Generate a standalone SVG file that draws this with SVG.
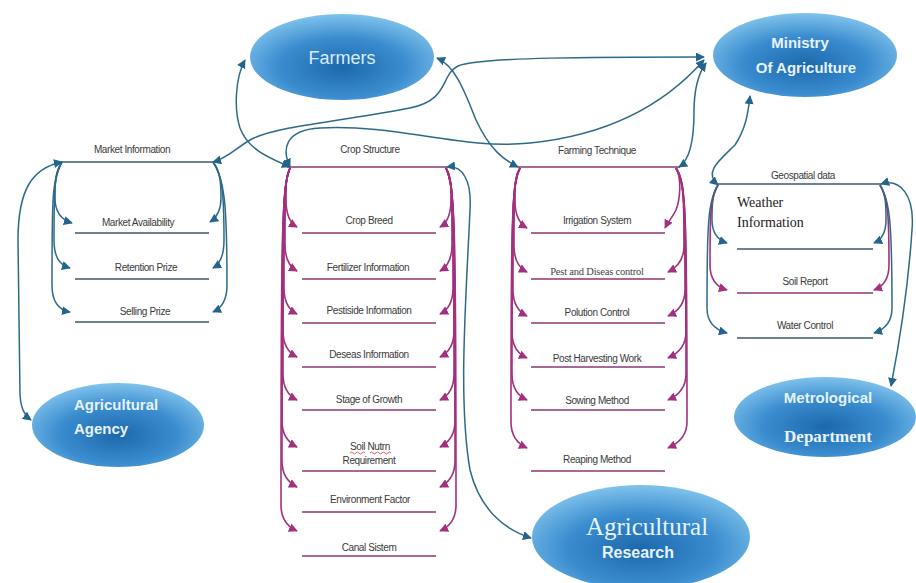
<svg xmlns="http://www.w3.org/2000/svg" width="916" height="583" viewBox="0 0 916 583">
<defs>
<radialGradient id="eg" cx="50%" cy="62%" r="62%">
<stop offset="0" stop-color="#1d68ad"/>
<stop offset="0.55" stop-color="#3a8ccf"/>
<stop offset="1" stop-color="#80c3ec"/>
</radialGradient>
<marker id="at" viewBox="0 0 10 10" refX="9" refY="5" markerWidth="9" markerHeight="9" markerUnits="userSpaceOnUse" orient="auto-start-reverse">
<path d="M0,0 L10,5 L0,10 Z" fill="#23648a"/>
</marker>
<marker id="am" viewBox="0 0 10 10" refX="9" refY="5" markerWidth="9" markerHeight="9" markerUnits="userSpaceOnUse" orient="auto-start-reverse">
<path d="M0,0 L10,5 L0,10 Z" fill="#a3307e"/>
</marker>
<style>
.el{fill:url(#eg);}
.t{fill:none;stroke:#2d6a8a;stroke-width:1.5;marker-end:url(#at);}
.tb{fill:none;stroke:#2d6a8a;stroke-width:1.5;marker-start:url(#at);marker-end:url(#at);}
.m{fill:none;stroke:#a3307e;stroke-width:1.6;marker-end:url(#am);}
.lt{stroke:#3b5a6a;stroke-width:1.5;}
.lm{stroke:#8c3772;stroke-width:1.5;}
.it{font-family:"Liberation Sans",Arial,sans-serif;font-size:10px;fill:#3a3a3a;text-anchor:middle;letter-spacing:-0.4px;}
.nt{font-family:"Liberation Sans",Arial,sans-serif;fill:#e6f3fc;font-weight:bold;}
.ns{font-family:"Liberation Serif","Times New Roman",serif;fill:#e6f3fc;}
</style>
</defs>
<rect width="916" height="583" fill="#ffffff"/>

<g id="farmers">
<ellipse class="el" cx="342" cy="57" rx="92" ry="43"/>
<text x="342" y="64" font-family="Liberation Sans,Arial,sans-serif" font-size="18" fill="#d9edfb" text-anchor="middle">Farmers</text>
</g>
<g id="ministry">
<ellipse class="el" cx="805" cy="55" rx="92" ry="42"/>
<text class="nt" x="800" y="48" font-size="15" text-anchor="middle">Ministry</text>
<text class="nt" x="806" y="73" font-size="15" text-anchor="middle">Of Agriculture</text>
</g>
<g id="agency">
<ellipse class="el" cx="118" cy="425" rx="86" ry="42"/>
<text class="nt" x="74" y="410" font-size="15">Agricultural</text>
<text class="nt" x="74" y="434" font-size="15">Agency</text>
</g>
<g id="metrological">
<ellipse class="el" cx="825" cy="417" rx="91" ry="40"/>
<text class="nt" x="828" y="403" font-size="15" text-anchor="middle">Metrological</text>
<text class="ns" x="828" y="442" font-size="17" font-weight="bold" text-anchor="middle">Department</text>
</g>
<g id="research">
<ellipse class="el" cx="641" cy="537" rx="109" ry="52"/>
<text class="ns" x="647" y="535" font-size="25" text-anchor="middle">Agricultural</text>
<text class="nt" x="638" y="558" font-size="16" text-anchor="middle">Research</text>
</g>

<g id="market-information">
<text class="it" x="132" y="153">Market Information</text>
<line class="lt" x1="60" y1="162" x2="216" y2="162"/>
<text class="it" x="138" y="226">Market Availability</text>
<line class="lt" x1="75" y1="233" x2="209" y2="233"/>
<text class="it" x="146" y="271">Retention  Prize</text>
<line class="lt" x1="75" y1="279" x2="209" y2="279"/>
<text class="it" x="145" y="315">Selling  Prize</text>
<line class="lt" x1="75" y1="322" x2="209" y2="322"/>
</g>

<g id="crop-structure">
<text class="it" x="370" y="153">Crop Structure</text>
<line class="lm" x1="287" y1="167" x2="447" y2="167"/>
<text class="it" x="369" y="224">Crop Breed</text>
<line class="lm" x1="302" y1="233" x2="436" y2="233"/>
<text class="it" x="368" y="271">Fertilizer  Information</text>
<line class="lm" x1="302" y1="279" x2="436" y2="279"/>
<text class="it" x="369" y="314">Pestiside Information</text>
<line class="lm" x1="302" y1="323" x2="436" y2="323"/>
<text class="it" x="369" y="358">Deseas Information</text>
<line class="lm" x1="302" y1="367" x2="436" y2="367"/>
<text class="it" x="369" y="403">Stage of Growth</text>
<line class="lm" x1="302" y1="410" x2="436" y2="410"/>
<text class="it" x="370" y="450">Soil Nutrn</text>
<path d="M350,453 q1.5,-2 3,0 t3,0 t3,0 t3,0 t3,0 M370,453 q1.5,-2 3,0 t3,0 t3,0 t3,0 t3,0 t3,0 t3,0" fill="none" stroke="#d23a3a" stroke-width="0.8"/>
<text class="it" x="369" y="464">Requirement</text>
<line class="lm" x1="302" y1="471" x2="436" y2="471"/>
<text class="it" x="370" y="503">Environment Factor</text>
<line class="lm" x1="302" y1="512" x2="436" y2="512"/>
<text class="it" x="369" y="551">Canal Sistem</text>
<line class="lm" x1="302" y1="556" x2="436" y2="556"/>
</g>

<g id="farming-technique">
<text class="it" x="597" y="154">Farming  Technique</text>
<line class="lm" x1="518" y1="167" x2="680" y2="167"/>
<text class="it" x="597" y="224">Irrigation System</text>
<line class="lm" x1="531" y1="233" x2="665" y2="233"/>
<text x="597" y="275" font-family="Liberation Serif,serif" font-size="10.5" fill="#444" text-anchor="middle" letter-spacing="-0.2">Pest  and Diseas  control</text>
<line class="lm" x1="531" y1="279" x2="665" y2="279"/>
<text class="it" x="597" y="316" font-size="8.5">Polution  Control</text>
<line class="lm" x1="531" y1="323" x2="665" y2="323"/>
<text class="it" x="597" y="362" font-size="8.5">Post Harvesting   Work</text>
<line class="lm" x1="531" y1="367" x2="665" y2="367"/>
<text class="it" x="597" y="404">Sowing  Method</text>
<line class="lm" x1="531" y1="410" x2="665" y2="410"/>
<text class="it" x="597" y="463">Reaping Method</text>
<line class="lm" x1="531" y1="471" x2="665" y2="471"/>
</g>

<g id="geospatial-data">
<text class="it" x="803" y="179">Geospatial data</text>
<line class="lt" x1="718" y1="184" x2="882" y2="184"/>
<text x="737" y="207" font-family="Liberation Serif,serif" font-size="14" fill="#222">Weather</text>
<text x="737" y="227" font-family="Liberation Serif,serif" font-size="14" fill="#222">Information</text>
<line class="lt" x1="737" y1="249" x2="873" y2="249"/>
<text class="it" x="805" y="285" font-size="9.5">Soil Report</text>
<line class="lm" x1="737" y1="293" x2="873" y2="293"/>
<text class="it" x="805" y="329">Water Control</text>
<line class="lt" x1="737" y1="338" x2="873" y2="338"/>
</g>

<g id="connectors">
<!-- market information -->
<path class="t" d="M62,162 C55,172 55,182 55,198 C55,212 62,220 72,223"/>
<path class="t" d="M62,162 C54,175 54,190 54,240 C54,258 60,265 70,268"/>
<path class="t" d="M62,162 C52,178 52,200 52,285 C52,302 58,310 70,312"/>
<path class="t" d="M213,162 C220,170 221,182 221,198 C221,210 216,218 210,222"/>
<path class="t" d="M213,162 C222,175 224,190 224,240 C224,256 220,264 213,268"/>
<path class="t" d="M213,162 C224,178 227,200 227,285 C227,300 222,308 213,312"/>
<path class="tb" d="M62,162 C32,168 18,190 18,240 L20,395 C21,408 24,415 31,420"/>
<path class="tb" d="M213,162 C228,158 236,148 250,140 C275,126 350,120 410,108 C450,100 440,75 458,66 C480,57 600,57 704,57"/>
<!-- farmers / ministry / crop / farming -->
<path class="tb" d="M290,167 C270,158 248,150 240,128 C234,110 235,78 245,60"/>
<path class="tb" d="M290,167 C282,150 284,130 320,128 C400,124 460,150 530,143 C600,136 660,110 704,60"/>
<path class="tb" d="M437,58 C456,66 466,95 476,120 C490,150 504,160 518,167"/>
<path class="tb" d="M679,167 C690,160 694,140 694,112 C694,88 698,74 706,63"/>
<path class="tb" d="M750,96 C748,115 745,130 735,145 C720,160 703,172 718,185"/>
<path class="tb" d="M881,184 C900,178 915,195 912,230 C908,290 898,350 891,386"/>
<path class="tb" d="M447,167 C462,165 472,180 470,210 C466,300 458,400 470,470 C480,510 505,530 531,538"/>
<!-- crop structure magenta -->
<path class="m" d="M290,168 C286,176 286,184 286,200 C286,215 290,223 297,227"/>
<path class="m" d="M290,168 C285,178 285,190 285,245 C285,260 290,267 297,271"/>
<path class="m" d="M290,168 C284,180 284,195 284,288 C284,303 289,310 297,314"/>
<path class="m" d="M290,168 C284,182 283,200 283,331 C283,346 289,353 297,357"/>
<path class="m" d="M290,168 C283,184 283,205 283,374 C283,389 289,396 297,400"/>
<path class="m" d="M290,168 C283,186 282,210 282,421 C282,436 289,443 297,447"/>
<path class="m" d="M290,168 C282,188 282,215 282,461 C282,476 289,483 297,487"/>
<path class="m" d="M290,168 C282,190 281,220 281,505 C281,520 288,527 297,531"/>
<path class="m" d="M446,168 C451,176 451,184 451,200 C451,215 447,223 440,227"/>
<path class="m" d="M446,168 C452,178 452,190 452,245 C452,260 447,267 440,271"/>
<path class="m" d="M446,168 C453,180 453,195 453,288 C453,303 448,310 440,314"/>
<path class="m" d="M446,168 C453,182 454,200 454,331 C454,346 448,353 440,357"/>
<path class="m" d="M446,168 C454,184 454,205 454,374 C454,389 448,396 440,400"/>
<path class="m" d="M446,168 C454,186 455,210 455,421 C455,436 448,443 440,447"/>
<path class="m" d="M446,168 C455,188 455,215 455,461 C455,476 448,483 440,487"/>
<path class="m" d="M446,168 C455,190 456,220 456,505 C456,520 449,527 440,531"/>
<!-- farming technique magenta -->
<path class="m" d="M520,168 C515,176 515,184 515,201 C515,216 520,224 527,228"/>
<path class="m" d="M520,168 C514,178 514,190 514,246 C514,261 519,268 527,272"/>
<path class="m" d="M520,168 C513,180 513,195 513,290 C513,305 519,312 527,316"/>
<path class="m" d="M520,168 C513,182 512,200 512,332 C512,347 518,354 527,358"/>
<path class="m" d="M520,168 C512,184 512,205 512,374 C512,389 518,396 527,400"/>
<path class="m" d="M520,168 C512,186 511,210 511,422 C511,437 518,444 527,448"/>
<path class="m" d="M676,168 C682,178 680,200 676,210 C672,218 668,222 665,228"/>
<path class="m" d="M676,168 C683,178 684,190 684,246 C684,261 676,268 668,272"/>
<path class="m" d="M676,168 C684,180 685,195 685,290 C685,305 677,312 668,316"/>
<path class="m" d="M676,168 C685,182 686,200 686,332 C686,347 677,354 668,358"/>
<path class="m" d="M676,168 C685,184 686,205 686,374 C686,389 677,396 668,400"/>
<path class="m" d="M676,168 C686,186 687,210 687,422 C687,437 677,444 668,448"/>
<!-- geospatial -->
<path class="t" d="M718,185 C712,195 712,205 712,220 C712,234 718,240 727,243"/>
<path class="m" d="M718,185 C710,198 710,215 710,265 C710,280 717,287 727,290"/>
<path class="t" d="M718,185 C708,200 707,225 707,308 C707,323 716,330 727,333"/>
<path class="t" d="M880,185 C886,195 886,205 886,220 C886,234 881,240 874,243"/>
<path class="m" d="M880,185 C888,198 889,215 889,265 C889,280 882,287 874,290"/>
<path class="t" d="M880,185 C890,200 892,225 892,308 C892,323 883,330 874,333"/>
</g>
</svg>
